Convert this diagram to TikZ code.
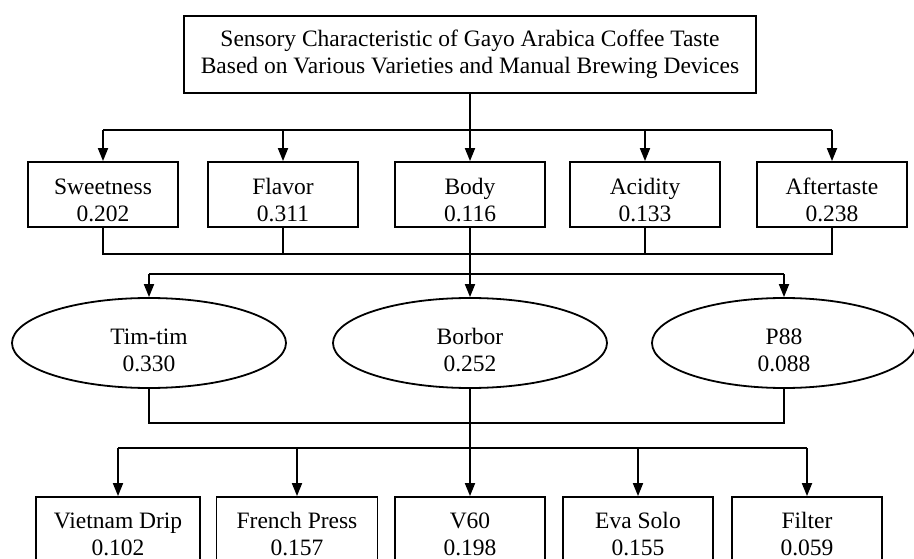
\documentclass[tikz,border=0pt]{standalone}
\usepackage{fontspec}
\setmainfont{Liberation Serif}
\usetikzlibrary{shapes.geometric,arrows.meta}
\newcommand\liftb{\rule{0pt}{28pt}}
\newcommand\liftd{\rule{0pt}{25pt}}
\newcommand\lifte{\rule{0pt}{30pt}}
\begin{document}
\begin{tikzpicture}[x=1pt,y=-1pt,
  every node/.style={font=\fontsize{23.5}{27}\selectfont, align=center, inner sep=0pt},
  rbox/.style={draw, line width=1.8pt, minimum height=65pt},
  tbox/.style={draw, line width=1.8pt},
  ell/.style={draw, line width=1.8pt, ellipse, minimum height=90pt},
  conn/.style={line width=1.8pt},
  arr/.style={line width=1.8pt, -{Triangle[width=10pt,length=13pt]}}]
\useasboundingbox (0,0) rectangle (914,559);
% title
\node[tbox, minimum width=572pt, minimum height=77pt] (title) at (470,54.5)
  {Sensory Characteristic of Gayo Arabica Coffee Taste\\Based on Various Varieties and Manual Brewing Devices};
% criteria
\node[rbox, minimum width=150pt] (sw) at (103,194.5) {\liftb Sweetness\\0.202};
\node[rbox, minimum width=150pt] (fl) at (283,194.5) {\liftb Flavor\\0.311};
\node[rbox, minimum width=150pt] (bo) at (470,194.5) {\liftb Body\\0.116};
\node[rbox, minimum width=150pt] (ac) at (645,194.5) {\liftb Acidity\\0.133};
\node[rbox, minimum width=150pt] (af) at (832,194.5) {\liftb Aftertaste\\0.238};
% varieties
\node[ell, minimum width=274pt] (tt) at (149,343) {\lifte Tim-tim\\0.330};
\node[ell, minimum width=274pt] (bb) at (470,343) {\lifte Borbor\\0.252};
\node[ell, minimum width=264pt] (p8) at (784,343) {\lifte P88\\0.088};
% devices
\node[rbox, minimum width=164pt] (vd) at (118,529.5) {\liftd Vietnam Drip\\0.102};
\node[rbox, minimum width=161pt] (fp) at (297,529.5) {\liftd French Press\\0.157};
\node[rbox, minimum width=150pt] (v6) at (470,529.5) {\liftd V60\\0.198};
\node[rbox, minimum width=150pt] (es) at (638,529.5) {\liftd Eva Solo\\0.155};
\node[rbox, minimum width=150pt] (fi) at (807,529.5) {\liftd Filter\\0.059};
% bus levels
\coordinate (y1) at (0,130);
\coordinate (y2) at (0,254);
\coordinate (y3) at (0,274);
\coordinate (y4) at (0,423);
\coordinate (y5) at (0,448);
% title -> criteria
\draw[conn] (title.south) -- (title.south |- y1);
\draw[conn] (sw.north |- y1) -- (af.north |- y1);
\foreach \n in {sw,fl,bo,ac,af} \draw[arr] (\n.north |- y1) -- (\n.north);
% criteria -> varieties
\draw[conn] (sw.south) -- (sw.south |- y2) -- (af.south |- y2) -- (af.south);
\draw[conn] (fl.south) -- (fl.south |- y2);
\draw[conn] (ac.south) -- (ac.south |- y2);
\draw[conn] (bo.south) -- (bo.south |- y3);
\draw[conn] (tt.north |- y3) -- (p8.north |- y3);
\foreach \n in {tt,bb,p8} \draw[arr] (\n.north |- y3) -- (\n.north);
% varieties -> devices
\draw[conn] (tt.south) -- (tt.south |- y4) -- (p8.south |- y4) -- (p8.south);
\draw[arr] (bb.south) -- (v6.north);
\draw[conn] (vd.north |- y5) -- (fi.north |- y5);
\foreach \n in {vd,fp,es,fi} \draw[arr] (\n.north |- y5) -- (\n.north);
\end{tikzpicture}
\end{document}
